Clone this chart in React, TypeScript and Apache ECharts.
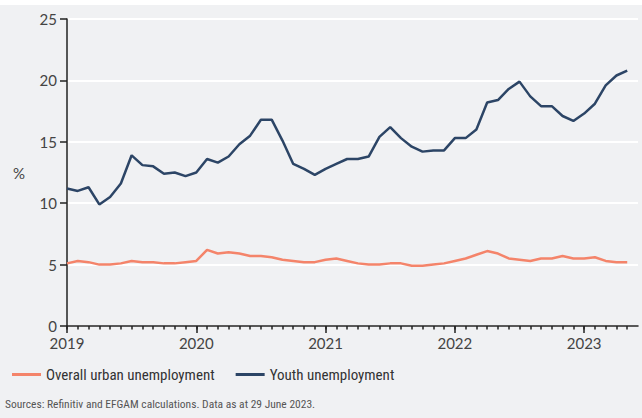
import React, { useEffect, useRef } from "react";
import * as echarts from "echarts";

const months: string[] = [];
for (let y = 2019; y <= 2023; y++) {
  for (let m = 1; m <= 12; m++) {
    if (y === 2023 && m > 6) break;
    months.push(`${y}-${String(m).padStart(2, "0")}`);
  }
}

const youth = [
  11.2, 11.0, 11.3, 9.9, 10.5, 11.6, 13.9, 13.1, 13.0, 12.4, 12.5, 12.2,
  12.5, 13.6, 13.3, 13.8, 14.8, 15.5, 16.8, 16.8, 15.1, 13.2, 12.8, 12.3,
  12.8, 13.2, 13.6, 13.6, 13.8, 15.4, 16.2, 15.3, 14.6, 14.2, 14.3, 14.3,
  15.3, 15.3, 16.0, 18.2, 18.4, 19.3, 19.9, 18.7, 17.9, 17.9, 17.1, 16.7,
  17.3, 18.1, 19.6, 20.4, 20.8,
];

const urban = [
  5.1, 5.3, 5.2, 5.0, 5.0, 5.1, 5.3, 5.2, 5.2, 5.1, 5.1, 5.2,
  5.3, 6.2, 5.9, 6.0, 5.9, 5.7, 5.7, 5.6, 5.4, 5.3, 5.2, 5.2,
  5.4, 5.5, 5.3, 5.1, 5.0, 5.0, 5.1, 5.1, 4.9, 4.9, 5.0, 5.1,
  5.3, 5.5, 5.8, 6.1, 5.9, 5.5, 5.4, 5.3, 5.5, 5.5, 5.7, 5.5,
  5.5, 5.6, 5.3, 5.2, 5.2,
];

const seriesNames = ["Overall urban unemployment", "Youth unemployment"];
const sourceText = "Sources: Refinitiv and EFGAM calculations. Data as at 29 June 2023.";

const FONT = "Lato, 'Noto Sans', sans-serif";
const NARROW = "'Liberation Sans Narrow', 'Roboto Condensed', sans-serif";

export default function App() {
  const ref = useRef<HTMLDivElement>(null);
  useEffect(() => {
    document.body.style.margin = "0";
    const chart = echarts.init(ref.current!, null, { renderer: "svg" });
    chart.setOption({
      animation: false,
      backgroundColor: "#f0f1f3",
      textStyle: { fontFamily: FONT },
      graphic: [
        { type: "rect", left: 0, top: 0, shape: { width: 642, height: 5 }, style: { fill: "#ffffff" } },
        {
          type: "text",
          left: 5,
          top: 398,
          style: {
            text: sourceText,
            fill: "#555555",
            fontSize: 11.5,
            fontFamily: NARROW,
          },
        },
      ],
      grid: { left: 67, top: 19, right: 4, bottom: 92, containLabel: false },
      legend: {
        left: 7,
        top: 362,
        icon: "rect",
        itemWidth: 29,
        itemHeight: 3,
        itemGap: 21,
        textStyle: { fontSize: 15, color: "#333333", fontFamily: NARROW },
        data: seriesNames,
      },
      xAxis: [
        {
          type: "category",
          data: months,
          boundaryGap: false,
          position: "bottom",
          axisLine: { show: true, lineStyle: { color: "#222222", width: 1.5 } },
          axisTick: {
            show: true,
            length: 3.5,
            lineStyle: { color: "#222222", width: 1.5 },
            interval: (i: number) => i < months.length - 1,
          },
          axisLabel: { show: false },
          splitLine: { show: false },
        },
        {
          type: "category",
          data: months,
          boundaryGap: false,
          position: "bottom",
          axisLine: { show: false },
          axisTick: {
            show: true,
            length: 7,
            lineStyle: { color: "#222222", width: 1.5 },
            interval: (i: number) => i % 12 === 0,
          },
          axisLabel: {
            show: true,
            interval: (i: number) => i % 12 === 0,
            formatter: (v: string) => v.slice(0, 4),
            color: "#444444",
            fontSize: 15,
            lineHeight: 15,
            margin: 9.5,
            fontFamily: FONT,
          },
          splitLine: { show: false },
        },
      ],
      yAxis: {
        type: "value",
        min: 0,
        max: 25,
        interval: 5,
        name: "%",
        nameLocation: "middle",
        nameRotate: 0,
        nameGap: 42,
        nameTextStyle: { color: "#444444", fontSize: 15, fontFamily: FONT },
        axisLine: { show: true, lineStyle: { color: "#222222", width: 1.5 } },
        axisTick: { show: true, length: 7, lineStyle: { color: "#222222", width: 1.5 } },
        axisLabel: { color: "#444444", fontSize: 15, lineHeight: 14, margin: 10, fontFamily: FONT },
        splitLine: { show: true, lineStyle: { color: "#ffffff", width: 2 } },
      },
      series: [
        {
          name: seriesNames[0],
          type: "line",
          data: urban,
          xAxisIndex: 0,
          showSymbol: false,
          symbol: "none",
          lineStyle: { color: "#f4846a", width: 2.5 },
          itemStyle: { color: "#f4846a" },
        },
        {
          name: seriesNames[1],
          type: "line",
          data: youth,
          xAxisIndex: 0,
          showSymbol: false,
          symbol: "none",
          lineStyle: { color: "#2c4566", width: 2.5 },
          itemStyle: { color: "#2c4566" },
        },
      ],
    });
    return () => chart.dispose();
  }, []);
  return <div ref={ref} style={{ width: 642, height: 418 }} />;
}
